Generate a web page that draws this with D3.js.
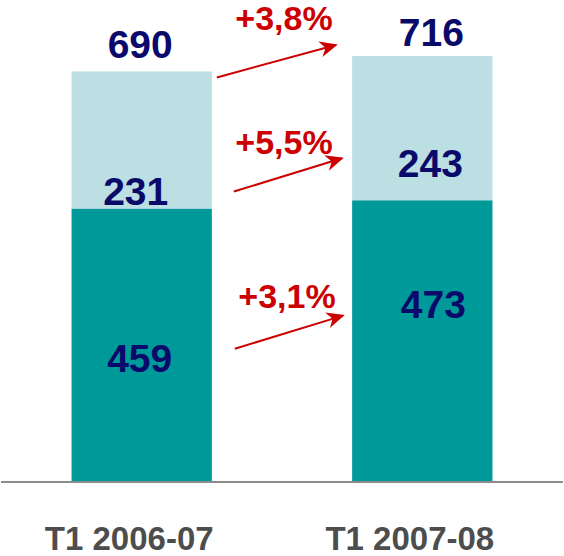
<!DOCTYPE html>
<html>
<head>
<meta charset="utf-8">
<script src="https://cdn.jsdelivr.net/npm/d3@7"></script>
<style>
  body { margin: 0; background: #fff; }
  text { font-family: "Liberation Sans", Arial, sans-serif; font-weight: bold; }
</style>
</head>
<body>
<div id="chart"></div>
<script>
// Data
const categories = ["T1 2006-07", "T1 2007-08"];
const baseValues = [459, 473];
const topValues = [231, 243];
const totals = [690, 716];
const growthLabels = ["+3,8%", "+5,5%", "+3,1%"];

const width = 564, height = 556;
const baseline = 481;

const svg = d3.select("#chart")
  .append("svg")
    .attr("width", width)
    .attr("height", height);

// Scales
const x = d3.scaleBand()
    .domain(categories)
    .range([0, width])
    .paddingInner(0.5)
    .paddingOuter(0.255);

const y = d3.scaleLinear()
    .domain([0, 716])
    .range([baseline, 56]);

const bw = x.bandwidth();

// Bars - dark base segment
svg.append("g")
  .selectAll("rect")
  .data(categories)
  .join("rect")
    .attr("x", d => x(d))
    .attr("y", (d, i) => y(baseValues[i]))
    .attr("width", bw)
    .attr("height", (d, i) => y(0) - y(baseValues[i]))
    .attr("fill", "#009999");

// Bars - light top segment
svg.append("g")
  .selectAll("rect")
  .data(categories)
  .join("rect")
    .attr("x", d => x(d))
    .attr("y", (d, i) => y(baseValues[i] + topValues[i]))
    .attr("width", bw)
    .attr("height", (d, i) => y(baseValues[i]) - y(baseValues[i] + topValues[i]))
    .attr("fill", "#bbdfe3");

// Baseline
svg.append("line")
    .attr("x1", 1).attr("x2", width - 1)
    .attr("y1", baseline + 1).attr("y2", baseline + 1)
    .attr("stroke", "#8c8c8c")
    .attr("stroke-width", 2);

// Value labels (small nudges to match the original layout)
const nudge = [
  { tot: [-1.5, -13], top: [-6, -3.5], base: [-2, 27] },
  { tot: [9, -10], top: [8, -23], base: [11, -22.5] }
];
const valueFont = 39;
const navy = "#0a0a6b";

categories.forEach((c, i) => {
  const cx = x(c) + bw / 2;
  const g = svg.append("g")
      .attr("fill", navy)
      .attr("text-anchor", "middle")
      .style("font-size", valueFont + "px");
  g.append("text")
      .attr("x", cx + nudge[i].tot[0])
      .attr("y", y(totals[i]) + nudge[i].tot[1])
      .text(totals[i]);
  g.append("text")
      .attr("x", cx + nudge[i].top[0])
      .attr("y", y(baseValues[i]) + nudge[i].top[1])
      .text(topValues[i]);
  g.append("text")
      .attr("x", cx + nudge[i].base[0])
      .attr("y", y(baseValues[i] / 2) + nudge[i].base[1])
      .text(baseValues[i]);
});

// Category labels
svg.append("g")
  .selectAll("text")
  .data(categories)
  .join("text")
    .attr("x", d => x(d) + bw / 2 - 12.5)
    .attr("y", 550)
    .attr("text-anchor", "middle")
    .attr("fill", "#4d4d4d")
    .style("font-size", "33px")
    .text(d => d);

// Growth arrows
const red = "#cc0000";
svg.append("defs").append("marker")
    .attr("id", "head")
    .attr("viewBox", "0 0 10 10")
    .attr("refX", 9)
    .attr("refY", 5)
    .attr("markerWidth", 9)
    .attr("markerHeight", 9)
    .attr("markerUnits", "strokeWidth")
    .attr("orient", "auto")
  .append("path")
    .attr("d", "M0,0.5 L10,5 L0,9.5 L3,5 Z")
    .attr("fill", red);

const x0 = x(categories[0]) + bw;
const arrows = [
  { x1: x0 + 5, y1: y(totals[0]) + 6, x2: 336, y2: y(totals[1]) - 11 },
  { x1: x0 + 22, y1: y(baseValues[0]) - 17, x2: 342, y2: y(baseValues[1]) - 42 },
  { x1: x0 + 23, y1: y(baseValues[0] / 2) + 4, x2: 343, y2: y(baseValues[1] / 2) - 25 }
];
const labelPos = [[284, 30], [284, 154], [287, 308]];

arrows.forEach((a, i) => {
  svg.append("line")
      .attr("x1", a.x1).attr("y1", a.y1)
      .attr("x2", a.x2).attr("y2", a.y2)
      .attr("stroke", red)
      .attr("stroke-width", 2)
      .attr("marker-end", "url(#head)");
  svg.append("text")
      .attr("x", labelPos[i][0])
      .attr("y", labelPos[i][1])
      .attr("text-anchor", "middle")
      .attr("fill", red)
      .style("font-size", "34px")
      .text(growthLabels[i]);
});
</script>
</body>
</html>
